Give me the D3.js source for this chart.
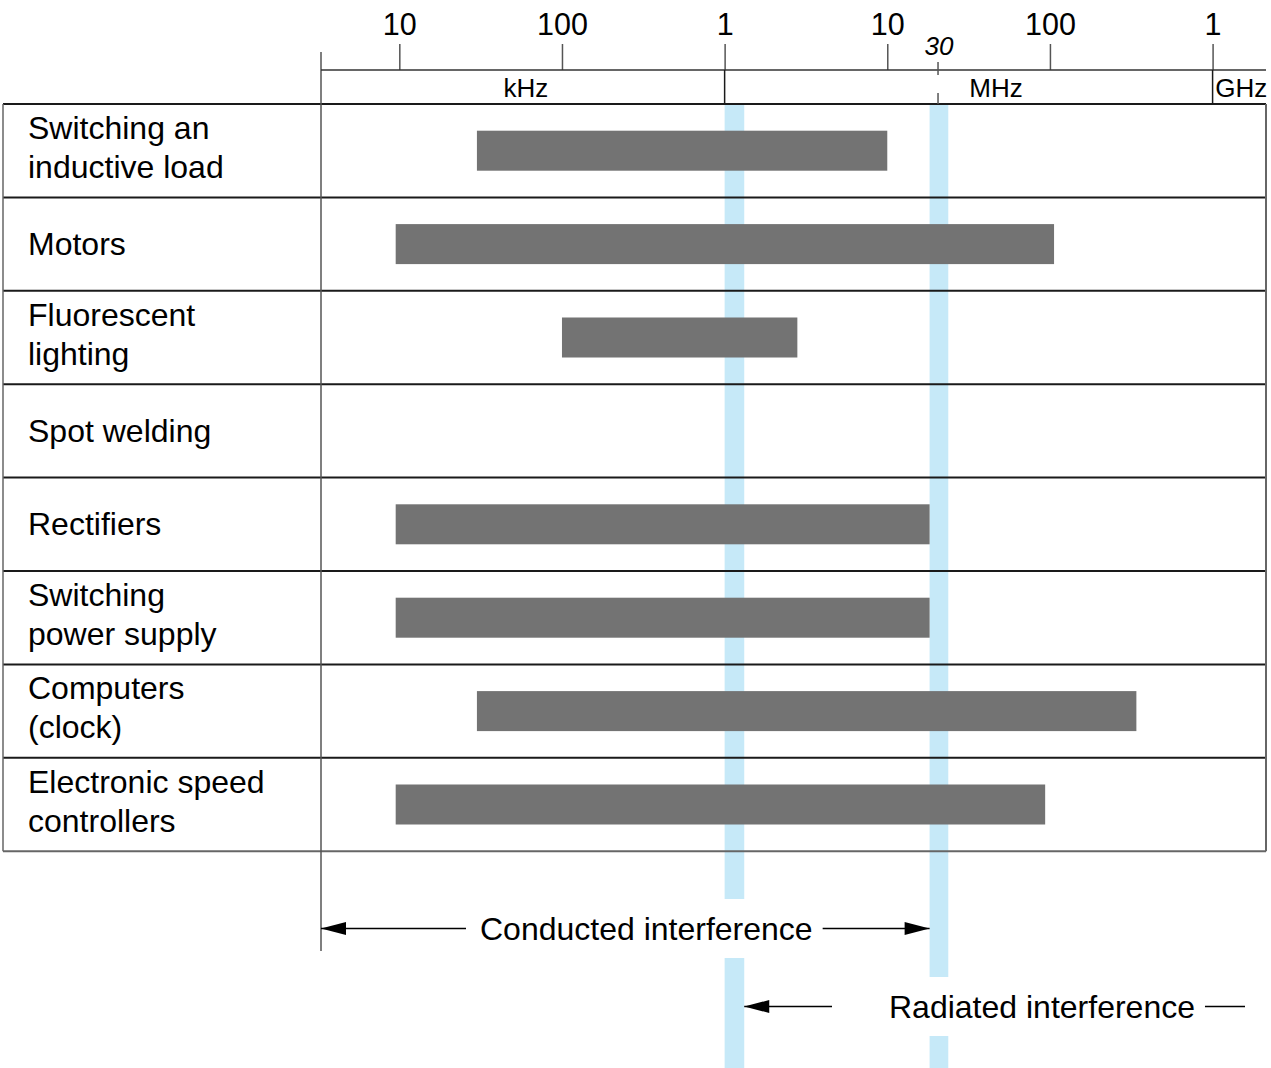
<!DOCTYPE html>
<html>
<head>
<meta charset="utf-8">
<script src="https://cdn.jsdelivr.net/npm/d3@7/dist/d3.min.js"></script>
<style>
  html, body { margin: 0; padding: 0; background: #fff; }
  svg { display: block; font-family: "Liberation Sans", Arial, Helvetica, sans-serif; }
</style>
</head>
<body>
<svg id="chart" width="1271" height="1068"></svg>
<script>
// Interference sources and the frequency span (Hz) each one produces
const categories = [
  "Switching an\ninductive load",
  "Motors",
  "Fluorescent\nlighting",
  "Spot welding",
  "Rectifiers",
  "Switching\npower supply",
  "Computers\n(clock)",
  "Electronic speed\ncontrollers"
];
const spanStart = [3e4, 9.5e3, 1e5, null, 9.5e3, 9.5e3, 3e4, 9.5e3];
const spanEnd   = [1e7, 1.06e8, 2.8e6, null, 2.5e7, 2.5e7, 3.4e8, 9.5e7];

// Frequency axis
const tickValues = [1e4, 1e5, 1e6, 1e7, 1e8, 1e9];
const tickLabels = ["10", "100", "1", "10", "100", "1"];
const unitLabels = ["kHz", "MHz", "GHz"];
const unitAt     = [6e4, 5.6e7, 1.5e9];
const unitBreaks = [1e6, 1e9];
const markValue = 3e7;
const markLabel = "30";
const freqMin = 3.3e3;
const freqMax = 2.13e9;

// Boundary bands between conducted and radiated interference
const boundaryBands = [[1e6, 1.32e6], [2.5e7, 3.35e7]];
const conductedSpan = [freqMin, 2.5e7];
const radiatedFrom = 1.32e6;

// ---- layout ----
const W = 1271, H = 1068;
const tableLeft = 3, tableRight = 1266, labelCol = 321;
const headerTop = 70, tableTop = 104, rowH = 93.4;
const barH = 40;
const lineCol = "#1a1a1a", gridCol = "#555";
const labelSize = 32, tickSize = 30.5, unitSize = 26;

const svg = d3.select("#chart");
svg.append("rect").attr("width", W).attr("height", H).attr("fill", "#fff");

// Log frequency scale; the 30 MHz mark sits a little under a third of the
// way through its decade, as the chart's axis is drawn
const base = d3.scaleLog().domain([freqMin, freqMax]).range([labelCol, tableRight]);
const markFrac = 0.312;
const x = d3.scaleLog()
  .domain([freqMin, 1e7, markValue, 1e8, freqMax])
  .range([base(freqMin), base(1e7), base(1e7) + markFrac * (base(1e8) - base(1e7)), base(1e8), base(freqMax)]);

const y = d3.scaleBand().domain(categories).range([tableTop, tableTop + rowH * categories.length]);
const tableBottom = tableTop + rowH * categories.length;

const conductedY = 928.5, radiatedY = 1006.5, gapHalf = 29.5;
const bandGaps = [conductedY, radiatedY];

// Boundary bands (broken where the annotation rows cross them)
boundaryBands.forEach((b, i) => {
  const x0 = x(b[0]), x1 = x(b[1]);
  const segs = [[tableTop, bandGaps[i] - gapHalf], [bandGaps[i] + gapHalf, H]];
  segs.forEach(s => {
    svg.append("rect")
      .attr("x", x0).attr("y", s[0])
      .attr("width", x1 - x0).attr("height", s[1] - s[0])
      .attr("fill", "#c6e9f8");
  });
});

// Table grid
const grid = svg.append("g");
categories.forEach((c, i) => {
  grid.append("line")
    .attr("x1", tableLeft).attr("x2", tableRight)
    .attr("y1", y(c)).attr("y2", y(c))
    .attr("stroke", lineCol).attr("stroke-width", 2);
});
grid.append("line")
  .attr("x1", tableLeft).attr("x2", tableRight)
  .attr("y1", tableBottom).attr("y2", tableBottom)
  .attr("stroke", "#666").attr("stroke-width", 2);
grid.append("line")
  .attr("x1", tableLeft).attr("x2", tableLeft)
  .attr("y1", tableTop).attr("y2", tableBottom)
  .attr("stroke", "#666").attr("stroke-width", 1.5);
grid.append("line")
  .attr("x1", tableRight).attr("x2", tableRight)
  .attr("y1", tableTop).attr("y2", tableBottom)
  .attr("stroke", "#666").attr("stroke-width", 2);
grid.append("line")
  .attr("x1", labelCol).attr("x2", labelCol)
  .attr("y1", 52).attr("y2", 951)
  .attr("stroke", gridCol).attr("stroke-width", 1.5);

// Frequency spans
const rows = categories.map((c, i) => ({ cat: c, from: spanStart[i], to: spanEnd[i] }));
svg.append("g").selectAll("rect")
  .data(rows.filter(d => d.from != null))
  .join("rect")
  .attr("x", d => x(d.from))
  .attr("width", d => x(d.to) - x(d.from))
  .attr("y", d => y(d.cat) + (y.bandwidth() - barH) / 2)
  .attr("height", barH)
  .attr("fill", "#737373");

// Row labels
const labels = svg.append("g").attr("font-size", labelSize).attr("fill", "#000");
categories.forEach(c => {
  const lines = c.split("\n");
  const mid = y(c) + y.bandwidth() / 2;
  const t = labels.append("text").attr("x", 28);
  if (lines.length === 1) {
    t.attr("y", mid + 11).text(lines[0]);
  } else {
    t.append("tspan").attr("x", 28).attr("y", mid - 12).text(lines[0]);
    t.append("tspan").attr("x", 28).attr("y", mid + 27).text(lines[1]);
  }
});

// Header: axis ticks and unit strip
const axis = d3.axisTop(x)
  .tickValues(tickValues)
  .tickFormat((d, i) => tickLabels[i])
  .tickSize(headerTop - 44)
  .tickPadding(9);
const ax = svg.append("g").attr("transform", `translate(0,${headerTop})`).call(axis);
ax.select(".domain").remove();
ax.selectAll(".tick line").attr("stroke", gridCol).attr("stroke-width", 1.5);
ax.selectAll(".tick text")
  .attr("font-size", tickSize)
  .attr("font-family", "Liberation Sans, Arial, sans-serif")
  .attr("fill", "#000");

svg.append("line")
  .attr("x1", labelCol).attr("x2", tableRight)
  .attr("y1", headerTop).attr("y2", headerTop)
  .attr("stroke", "#333").attr("stroke-width", 1.5);

unitBreaks.forEach(f => {
  svg.append("line")
    .attr("x1", x(f)).attr("x2", x(f))
    .attr("y1", headerTop).attr("y2", tableTop)
    .attr("stroke", lineCol).attr("stroke-width", 1.5);
});

unitLabels.forEach((u, i) => {
  svg.append("text")
    .attr("x", x(unitAt[i])).attr("y", 97)
    .attr("text-anchor", "middle")
    .attr("font-size", unitSize)
    .attr("fill", "#000")
    .text(u);
});

// 30 MHz marker
svg.append("line")
  .attr("x1", x(markValue)).attr("x2", x(markValue))
  .attr("y1", 62).attr("y2", tableTop)
  .attr("stroke", gridCol).attr("stroke-width", 1.5)
  .attr("stroke-dasharray", "13,18");
svg.append("text")
  .attr("x", x(markValue) + 1).attr("y", 55)
  .attr("text-anchor", "middle")
  .attr("font-size", unitSize)
  .attr("font-style", "italic")
  .attr("fill", "#000")
  .text(markLabel);

// Annotation arrows
function arrowHead(tipX, yy, dir) {
  const len = 25, half = 6.5;
  svg.append("path")
    .attr("d", `M${tipX},${yy} L${tipX + dir * len},${yy - half} L${tipX + dir * len},${yy + half} Z`)
    .attr("fill", "#000");
}
function hline(x1, x2, yy) {
  svg.append("line")
    .attr("x1", x1).attr("x2", x2).attr("y1", yy).attr("y2", yy)
    .attr("stroke", "#000").attr("stroke-width", 1.5);
}

// Conducted interference: from the left edge of the scale to the 30 MHz band
const cLeft = x(conductedSpan[0]), cRight = x(conductedSpan[1]);
const cText = svg.append("text")
  .attr("x", 480).attr("y", conductedY + 11)
  .attr("font-size", labelSize).attr("fill", "#000")
  .text("Conducted interference");
const cEnd = 480 + cText.node().getComputedTextLength();
hline(cLeft, 466, conductedY);
arrowHead(cLeft, conductedY, 1);
hline(cEnd + 10, cRight, conductedY);
arrowHead(cRight, conductedY, -1);

// Radiated interference: from the 1 MHz band upward
const rLeft = x(radiatedFrom);
const rText = svg.append("text")
  .attr("x", 889).attr("y", radiatedY + 11)
  .attr("font-size", labelSize).attr("fill", "#000")
  .text("Radiated interference");
const rEnd = 889 + rText.node().getComputedTextLength();
hline(rLeft, 832, radiatedY);
arrowHead(rLeft, radiatedY, 1);
hline(rEnd + 10, 1245, radiatedY);
</script>
</body>
</html>
